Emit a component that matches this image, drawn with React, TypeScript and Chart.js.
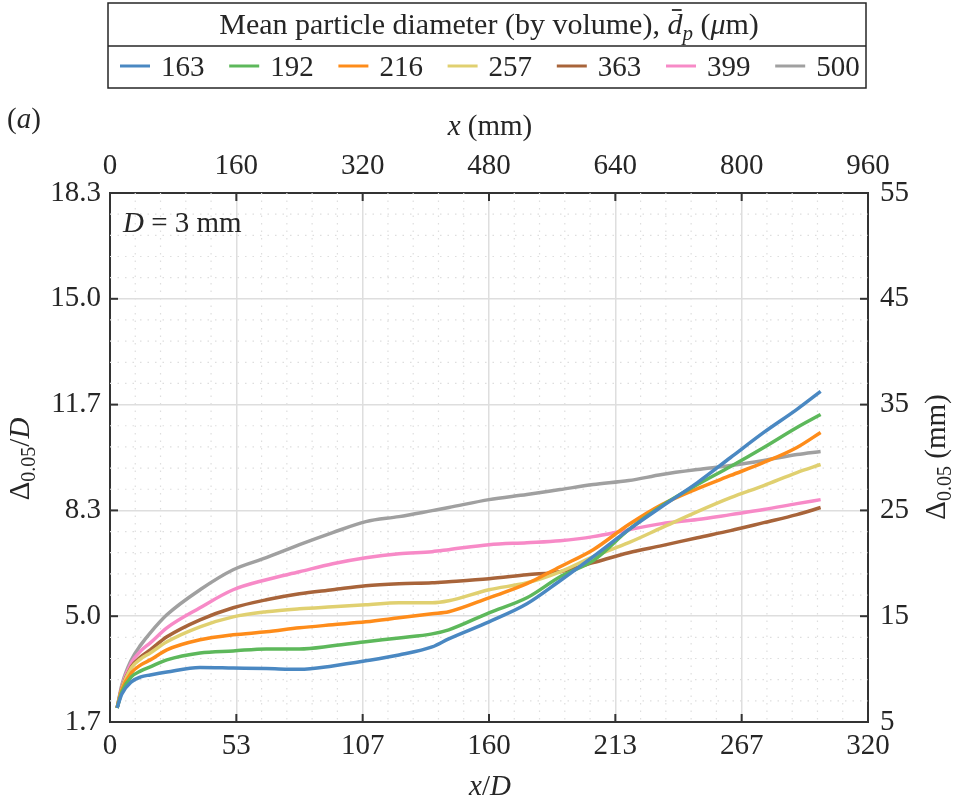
import React, { useEffect, useRef } from "react";
import { Chart, registerables } from "chart.js";

Chart.register(...registerables);

// ---------- data ----------
// x/D positions at which the curves were read
const xOverD = [3, 5, 9, 13, 17, 24, 38, 52, 66, 80, 94, 108, 122, 136, 143, 160, 176, 190, 204, 219, 233, 248, 262, 276, 290, 300];

// Δ0.05 in mm (right axis) for each mean particle diameter
const d163 = [6.33, 7.65, 8.79, 9.26, 9.45, 9.73, 10.15, 10.1, 10.05, 9.98, 10.3, 10.78, 11.34, 12.1, 12.86, 14.47, 16.17, 18.35, 20.63, 23.18, 25.36, 27.63, 30.0, 32.37, 34.55, 36.25];
const d192 = [6.33, 7.84, 9.26, 9.83, 10.21, 10.87, 11.53, 11.72, 11.91, 11.91, 12.2, 12.58, 12.95, 13.33, 13.71, 15.32, 16.74, 18.73, 20.25, 23.18, 25.45, 27.44, 29.15, 30.95, 32.84, 34.07];
const d216 = [6.33, 8.03, 9.64, 10.4, 10.87, 11.82, 12.77, 13.24, 13.52, 13.9, 14.19, 14.47, 14.85, 15.23, 15.42, 16.74, 18.07, 19.68, 21.29, 23.66, 25.55, 27.06, 28.3, 29.53, 30.95, 32.37];
const d257 = [6.33, 8.13, 10.11, 10.97, 11.53, 12.58, 14.0, 14.94, 15.42, 15.7, 15.89, 16.08, 16.27, 16.27, 16.46, 17.5, 18.16, 19.2, 20.63, 21.95, 23.37, 24.89, 26.21, 27.35, 28.58, 29.34];
const d363 = [6.33, 8.22, 10.21, 11.16, 11.82, 13.05, 14.66, 15.8, 16.55, 17.12, 17.5, 17.88, 18.07, 18.16, 18.26, 18.54, 18.92, 19.2, 20.06, 21.0, 21.67, 22.42, 23.09, 23.84, 24.6, 25.27];
const d399 = [6.33, 8.31, 10.59, 11.72, 12.48, 13.9, 15.8, 17.5, 18.45, 19.2, 19.96, 20.53, 20.91, 21.1, 21.29, 21.76, 21.95, 22.14, 22.52, 23.18, 23.75, 24.13, 24.6, 25.08, 25.64, 26.02];
const d500 = [6.33, 8.5, 10.87, 12.29, 13.43, 15.13, 17.5, 19.39, 20.53, 21.76, 22.9, 23.94, 24.41, 24.98, 25.27, 26.02, 26.5, 26.97, 27.44, 27.82, 28.39, 28.86, 29.24, 29.72, 30.28, 30.57];

const seriesLabels = ["163", "192", "216", "257", "363", "399", "500"];
const seriesValues = [d163, d192, d216, d257, d363, d399, d500];
const seriesColors = ["#4a88c2", "#5db85b", "#fe8c1a", "#e0d070", "#a8643a", "#f78ac7", "#a0a0a0"];

// tick values / labels
const bottomTickValues = [0, 160 / 3, 320 / 3, 160, 640 / 3, 800 / 3, 320];
const topTickValues = [0, 160, 320, 480, 640, 800, 960];
const leftTickValues = [5 / 3, 5, 25 / 3, 35 / 3, 15, 55 / 3];
const rightTickValues = [5, 15, 25, 35, 45, 55];
const D_MM = 3;

const FONT = "'Liberation Serif', 'Times New Roman', serif";
const TXT = "#262626";
const BASE = 29;

type Part = { t: string; it?: boolean; s?: number; dy?: number; bar?: boolean };

function partFont(p: Part, base: number) {
  return `${p.it ? "italic " : ""}${p.s ?? base}px ${FONT}`;
}
function richWidth(ctx: CanvasRenderingContext2D, parts: Part[], base: number) {
  let w = 0;
  for (const p of parts) {
    ctx.font = partFont(p, base);
    w += ctx.measureText(p.t).width;
  }
  return w;
}
function drawRich(
  ctx: CanvasRenderingContext2D,
  parts: Part[],
  x: number,
  y: number,
  base: number,
  align: "left" | "center"
) {
  const w = richWidth(ctx, parts, base);
  let cx = align === "center" ? x - w / 2 : x;
  ctx.textAlign = "left";
  ctx.textBaseline = "alphabetic";
  for (const p of parts) {
    ctx.font = partFont(p, base);
    const pw = ctx.measureText(p.t).width;
    ctx.fillText(p.t, cx, y + (p.dy ?? 0));
    if (p.bar) {
      const size = p.s ?? base;
      ctx.save();
      ctx.strokeStyle = ctx.fillStyle as string;
      ctx.lineWidth = 1.8;
      ctx.beginPath();
      ctx.moveTo(cx + pw * 0.3, y - size * 0.8);
      ctx.lineTo(cx + pw * 0.95, y - size * 0.8);
      ctx.stroke();
      ctx.restore();
    }
    cx += pw;
  }
}

const decorPlugin = {
  id: "decor",
  beforeDatasetsDraw(chart: any) {
    const { ctx, chartArea: a, scales } = chart;
    const sx = scales.x2;
    const sy = scales.y2;
    ctx.save();
    ctx.strokeStyle = "#dedede";
    ctx.lineWidth = 1.2;
    ctx.setLineDash([1.5, 6]);
    for (let v = 0; v <= 960; v += 32) {
      if (v % 160 === 0) continue;
      const px = sx.getPixelForValue(v);
      ctx.beginPath();
      ctx.moveTo(px, a.top);
      ctx.lineTo(px, a.bottom);
      ctx.stroke();
    }
    for (let v = 5; v <= 55; v += 2) {
      if ((v - 5) % 10 === 0) continue;
      const py = sy.getPixelForValue(v);
      ctx.beginPath();
      ctx.moveTo(a.left, py);
      ctx.lineTo(a.right, py);
      ctx.stroke();
    }
    ctx.restore();
  },
  afterDraw(chart: any) {
    const { ctx, chartArea: a, scales } = chart;
    ctx.save();
    // inward tick marks
    ctx.strokeStyle = "#333";
    ctx.lineWidth = 2;
    const L = 8;
    for (const v of bottomTickValues) {
      const px = scales.x.getPixelForValue(v);
      ctx.beginPath();
      ctx.moveTo(px, a.bottom);
      ctx.lineTo(px, a.bottom - L);
      ctx.stroke();
    }
    for (const v of topTickValues) {
      const px = scales.x2.getPixelForValue(v);
      ctx.beginPath();
      ctx.moveTo(px, a.top);
      ctx.lineTo(px, a.top + L);
      ctx.stroke();
    }
    for (const v of leftTickValues) {
      const py = scales.y.getPixelForValue(v);
      ctx.beginPath();
      ctx.moveTo(a.left, py);
      ctx.lineTo(a.left + L, py);
      ctx.stroke();
    }
    for (const v of rightTickValues) {
      const py = scales.y2.getPixelForValue(v);
      ctx.beginPath();
      ctx.moveTo(a.right, py);
      ctx.lineTo(a.right - L, py);
      ctx.stroke();
    }

    ctx.fillStyle = TXT;
    // panel label
    drawRich(ctx, [{ t: "(" }, { t: "a", it: true }, { t: ")" }], 7, 128, BASE, "left");
    // top axis title
    drawRich(ctx, [{ t: "x", it: true }, { t: " (mm)" }], 490, 135, BASE, "center");
    // bottom axis title
    drawRich(ctx, [{ t: "x", it: true }, { t: "/" }, { t: "D", it: true }], 490, 795, BASE, "center");
    // inside label
    drawRich(ctx, [{ t: "D", it: true }, { t: " = " }, { t: String(D_MM) }, { t: " mm" }], 123, 232, BASE, "left");

    // left rotated title
    ctx.save();
    ctx.translate(29, 459);
    ctx.rotate(-Math.PI / 2);
    drawRich(
      ctx,
      [{ t: "Δ" }, { t: "0.05", s: 20, dy: 6 }, { t: "/" }, { t: "D", it: true }],
      0,
      0,
      BASE,
      "center"
    );
    ctx.restore();
    // right rotated title
    ctx.save();
    ctx.translate(945, 457);
    ctx.rotate(-Math.PI / 2);
    drawRich(ctx, [{ t: "Δ" }, { t: "0.05", s: 20, dy: 6 }, { t: " (mm)" }], 0, 0, BASE, "center");
    ctx.restore();

    // legend box
    const bx0 = 108, bx1 = 866, by0 = 3, by1 = 88, bmid = 46;
    ctx.strokeStyle = "#262626";
    ctx.lineWidth = 1.5;
    ctx.strokeRect(bx0, by0, bx1 - bx0, by1 - by0);
    ctx.beginPath();
    ctx.moveTo(bx0, bmid);
    ctx.lineTo(bx1, bmid);
    ctx.stroke();
    drawRich(
      ctx,
      [
        { t: "Mean particle diameter (by volume), " },
        { t: "d", it: true, bar: true },
        { t: "p", it: true, s: 21, dy: 6 },
        { t: " (" },
        { t: "μ", it: true },
        { t: "m)" },
      ],
      (bx0 + bx1) / 2 + 2,
      34,
      30,
      "center"
    );
    const ds = chart.data.datasets;
    const step = 109.2;
    ds.forEach((d: any, i: number) => {
      const x0 = 120 + i * step;
      ctx.strokeStyle = d.borderColor;
      ctx.lineWidth = 3;
      ctx.beginPath();
      ctx.moveTo(x0, 66);
      ctx.lineTo(x0 + 30, 66);
      ctx.stroke();
      ctx.fillStyle = TXT;
      drawRich(ctx, [{ t: d.label }], x0 + 41, 76, BASE, "left");
    });
    ctx.restore();
  },
};

export default function App() {
  const ref = useRef<HTMLCanvasElement | null>(null);

  useEffect(() => {
    if (!ref.current) return;
    const tickFont = { family: FONT, size: BASE };
    const border = { display: true, color: "#333", width: 2 };
    const chart = new Chart(ref.current, {
      type: "line",
      data: {
        datasets: seriesLabels.map((label, i) => ({
          label,
          data: xOverD.map((x, j) => ({ x, y: seriesValues[i][j] })),
          borderColor: seriesColors[i],
          backgroundColor: seriesColors[i],
          borderWidth: 3.5,
          pointRadius: 0,
          cubicInterpolationMode: "monotone",
          fill: false,
          xAxisID: "x",
          yAxisID: "y2",
        })),
      },
      options: {
        animation: false,
        responsive: false,
        devicePixelRatio: 1,
        layout: { padding: 0 },
        plugins: { legend: { display: false }, tooltip: { enabled: false }, title: { display: false } },
        scales: {
          x: {
            type: "linear",
            position: "bottom",
            min: 0,
            max: 320,
            afterBuildTicks: (s: any) => {
              s.ticks = bottomTickValues.map((v) => ({ value: v }));
            },
            afterFit: (s: any) => {
              s.height = 83;
            },
            ticks: {
              callback: (v: any) => String(Math.round(Number(v))),
              font: tickFont,
              color: TXT,
              padding: 7,
              maxRotation: 0,
              autoSkip: false,
            },
            grid: { color: "#dedede", lineWidth: 1.5, drawTicks: false },
            border,
          },
          x2: {
            type: "linear",
            position: "top",
            min: 0,
            max: 960,
            afterBuildTicks: (s: any) => {
              s.ticks = topTickValues.map((v) => ({ value: v }));
            },
            afterFit: (s: any) => {
              s.height = 193;
            },
            ticks: { font: tickFont, color: TXT, padding: 9, maxRotation: 0, autoSkip: false },
            grid: { display: false, drawTicks: false },
            border,
          },
          y: {
            type: "linear",
            position: "left",
            min: 5 / 3,
            max: 55 / 3,
            afterBuildTicks: (s: any) => {
              s.ticks = leftTickValues.map((v) => ({ value: v }));
            },
            afterFit: (s: any) => {
              s.width = 110;
            },
            ticks: {
              callback: (v: any) => Number(v).toFixed(1),
              font: tickFont,
              color: TXT,
              padding: 9,
              autoSkip: false,
            },
            grid: { color: "#dedede", lineWidth: 1.5, drawTicks: false },
            border,
          },
          y2: {
            type: "linear",
            position: "right",
            min: 5,
            max: 55,
            afterBuildTicks: (s: any) => {
              s.ticks = rightTickValues.map((v) => ({ value: v }));
            },
            afterFit: (s: any) => {
              s.width = 87;
            },
            ticks: { font: tickFont, color: TXT, padding: 12, autoSkip: false },
            grid: { display: false, drawTicks: false },
            border,
          },
        },
      } as any,
      plugins: [decorPlugin],
    });
    return () => chart.destroy();
  }, []);

  return (
    <div style={{ position: "absolute", left: 0, top: 0, width: 955, height: 805 }}>
      <canvas ref={ref} width={955} height={805} />
    </div>
  );
}
